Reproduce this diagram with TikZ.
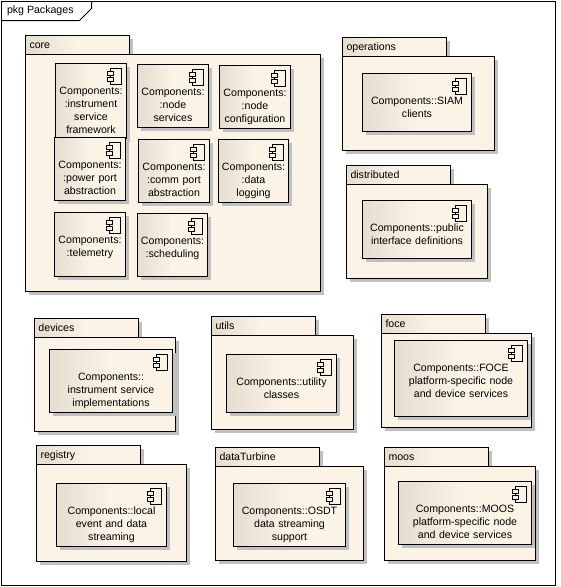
\documentclass[tikz,border=0pt]{standalone}
\usepackage{xcolor}
\usepackage{fontspec}
\setmainfont{Liberation Sans}
\usetikzlibrary{positioning,shadows}

\definecolor{pkgfill}{HTML}{FBF3E6}
\definecolor{pkgdark}{HTML}{E6DDD0}
\definecolor{greyshadow}{HTML}{C0C0C0}
\pgfdeclarehorizontalshading{pkgshade}{100bp}{color(0bp)=(pkgdark); color(25bp)=(pkgdark); color(50bp)=(pkgfill); color(100bp)=(pkgfill)}

\tikzset{
    boxshadow/.style={drop shadow={shadow xshift=3.5pt, shadow yshift=-3.5pt, opacity=1, fill=greyshadow}},
    % width, height of a package body
    pkgbody/.style 2 args={draw, boxshadow, fill=pkgfill, anchor=north west, inner sep=0pt, outer sep=0pt, minimum width=#1, minimum height=#2},
    % tab with its name on it
    pkgtab/.style={draw, boxshadow, shading=pkgshade, anchor=north west, inner sep=0pt, outer sep=0pt, text width=104pt, text height=12.8pt, text depth=6.2pt, align=left},
    % width, height of a component, text hangs from the top
    comp/.style 2 args={draw, boxshadow, shading=pkgshade, anchor=north west, inner sep=0pt, outer sep=0pt, text width=#1, text height=31pt, text depth=#2-31pt, align=center,
        path picture={
            \draw ([xshift=-16pt,yshift=-5pt]path picture bounding box.north east) rectangle ++(11,16);
            \draw[fill=pkgfill] ([xshift=-19pt,yshift=-8pt]path picture bounding box.north east) rectangle ++(6,4);
            \draw[fill=pkgfill] ([xshift=-19pt,yshift=-14pt]path picture bounding box.north east) rectangle ++(6,4);
        }},
}

\begin{document}
\begin{tikzpicture}[x=1pt, y=-1pt, font=\fontsize{10.6}{13}\selectfont, line width=1pt]
    \useasboundingbox (-.5,-.5) rectangle (560.5,586.5);

    % frame
    \node[draw, anchor=north west, inner sep=0pt, outer sep=0pt, minimum width=554, minimum height=584] (frame) at (1,1) {};
    \node[anchor=west, inner sep=0pt] (frametitle) at (6,10.5) {pkg Packages};
    \draw (frame.north west) ++(90,0) -- ++(0,7) -- ++(-12,12) -- ++(-78,0);

    % core
    \node[pkgtab] (coretab) at (25,35) {\hspace*{4pt}core};
    \node[pkgbody={295}{237}] (corebody) at (25,54) {};
    \node[comp={71}{75}] (instrument) at (55,63) {Components:\\:instrument\\service\\framework};
    \node[comp={71}{63}] (nodeservices) at (137,64) {Components:\\:node\\services};
    \node[comp={71}{63}] (nodeconfig) at (219,65) {Components:\\:node\\configuration};
    \node[comp={71}{63}] (powerport) at (54,137) {Components:\\:power port\\abstraction};
    \node[comp={71}{63}] (commport) at (138,139) {Components:\\:comm port\\abstraction};
    \node[comp={70}{63}] (datalogging) at (218,139) {Components:\\:data\\logging};
    \node[comp={71}{64}] (telemetry) at (54,212) {Components:\\:telemetry};
    \node[comp={70}{63}] (scheduling) at (137,213) {Components:\\:scheduling};

    % operations
    \node[pkgtab] (operationstab) at (342,37) {\hspace*{4pt}operations};
    \node[pkgbody={152}{94}] (operationsbody) at (342,56) {};
    \node[comp={109}{58}] (siam) at (362,73) {Components::SIAM\\clients};

    % distributed
    \node[pkgtab] (distributedtab) at (346,165) {\hspace*{4pt}distributed};
    \node[pkgbody={141}{94}] (distributedbody) at (346,184) {};
    \node[comp={109}{58}] (public) at (362,200) {Components::public\\interface definitions};

    % devices
    \node[pkgtab] (devicestab) at (34,318) {\hspace*{4pt}devices};
    \node[pkgbody={141}{94}] (devicesbody) at (34,337) {};
    \node[comp={123}{63}] (implementations) at (49,349) {Components::\\instrument service\\implementations};

    % utils
    \node[pkgtab] (utilstab) at (211,316) {\hspace*{4pt}utils};
    \node[pkgbody={142}{94}] (utilsbody) at (211,335) {};
    \node[comp={110}{58}] (utility) at (226,354) {Components::utility\\classes};

    % foce
    \node[pkgtab] (focetab) at (381,314) {\hspace*{4pt}foce};
    \node[pkgbody={150}{94}] (focebody) at (381,333) {};
    \node[comp={133}{76}] (foceservices) at (394,340) {Components::FOCE\\platform-specific node\\and device services};

    % registry
    \node[pkgtab] (registrytab) at (36,445) {\hspace*{4pt}registry};
    \node[pkgbody={150}{97}] (registrybody) at (36,464) {};
    \node[comp={110}{63}] (streaming) at (56,483) {Components::local\\event and data\\streaming};

    % dataTurbine
    \node[pkgtab] (dataturbinetab) at (215,447) {\hspace*{4pt}dataTurbine};
    \node[pkgbody={148}{94}] (dataturbinebody) at (215,466) {};
    \node[comp={112}{63}] (osdt) at (233,483) {Components::OSDT\\data streaming\\support};

    % moos
    \node[pkgtab] (moostab) at (384,447) {\hspace*{4pt}moos};
    \node[pkgbody={151}{94}] (moosbody) at (384,466) {};
    \node[comp={133}{63}] (moosservices) at (398,481) {Components::MOOS\\platform-specific node\\and device services};
\end{tikzpicture}
\end{document}
